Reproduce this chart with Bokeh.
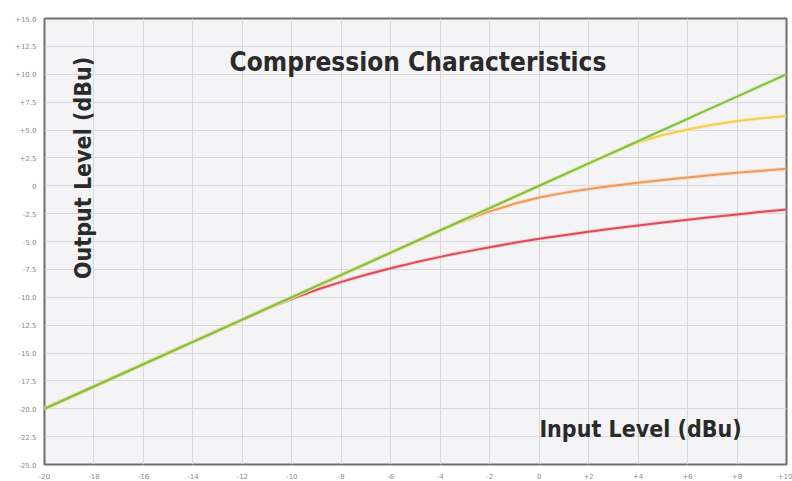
import math
from bokeh.plotting import figure
from bokeh.models import FixedTicker, Label
from bokeh.embed import file_html
from bokeh.resources import INLINE

# ---- data ----
input_db = [-20, -12, -11, -10, -9, -8, -7, -6, -5, -4, -3.5, -3, -2, -1, 0, 1, 2, 3, 3.5, 4, 5, 6, 7, 8, 9, 10]
out_linear = [-20, -12, -11, -10, -9, -8, -7, -6, -5, -4, -3.5, -3, -2, -1, 0, 1, 2, 3, 3.5, 4, 5, 6, 7, 8, 9, 10]
out_soft = [-20, -12, -11, -10, -9, -8, -7, -6, -5, -4, -3.5, -3, -2, -1, 0, 1, 2, 3, 3.48, 3.9, 4.55, 5.05, 5.47, 5.8, 6.05, 6.25]
out_medium = [-20, -12, -11, -10, -9, -8, -7, -6, -5, -4, -3.52, -3.1, -2.3, -1.62, -1.06, -0.64, -0.3, 0.0, 0.14, 0.27, 0.52, 0.75, 0.96, 1.16, 1.35, 1.53]
out_hard = [-20, -12, -11.03, -10.13, -9.33, -8.62, -7.98, -7.4, -6.87, -6.38, -6.15, -5.93, -5.51, -5.12, -4.76, -4.43, -4.12, -3.83, -3.69, -3.56, -3.3, -3.05, -2.81, -2.57, -2.34, -2.14]

x_ticks = [-20, -18, -16, -14, -12, -10, -8, -6, -4, -2, 0, 2, 4, 6, 8, 10]
x_tick_labels = ["-20", "-18", "-16", "-14", "-12", "-10", "-8", "-6", "-4", "-2", "0", "+2", "+4", "+6", "+8", "+10"]
y_ticks = [15, 12.5, 10, 7.5, 5, 2.5, 0, -2.5, -5, -7.5, -10, -12.5, -15, -17.5, -20, -22.5, -25]
y_tick_labels = ["+15.0", "+12.5", "+10.0", "+7.5", "+5.0", "+2.5", "0", "-2.5", "-5.0", "-7.5", "-10.0",
                 "-12.5", "-15.0", "-17.5", "-20.0", "-22.5", "-25.0"]

title_text = "Compression Characteristics"
x_label_text = "Input Level (dBu)"
y_label_text = "Output Level (dBu)"

p = figure(width=792, height=481, output_backend="svg", toolbar_location=None,
           x_range=(-20, 10), y_range=(-25, 15),
           min_border_left=44, min_border_right=6, min_border_top=18, min_border_bottom=13)

p.background_fill_color = "#f4f4f6"
p.border_fill_color = "white"
p.outline_line_color = "#6e6e6e"
p.outline_line_width = 2

p.xaxis.ticker = FixedTicker(ticks=x_ticks)
p.yaxis.ticker = FixedTicker(ticks=y_ticks)
p.xaxis.major_label_overrides = {t: l for t, l in zip(x_ticks, x_tick_labels)}
p.yaxis.major_label_overrides = {t: l for t, l in zip(y_ticks, y_tick_labels)}
for ax in (p.xaxis, p.yaxis):
    ax.axis_line_color = None
    ax.major_tick_line_color = None
    ax.minor_tick_line_color = None
    ax.major_label_text_font_size = "7px"
    ax.major_label_text_color = "#8a8a8a"
    ax.major_label_text_font = "DejaVu Sans"
p.yaxis.major_label_standoff = 2
p.xaxis.major_label_standoff = 2

p.xgrid.ticker = FixedTicker(ticks=x_ticks)
p.ygrid.ticker = FixedTicker(ticks=y_ticks)
p.grid.grid_line_color = "#d8d8da"
p.grid.grid_line_width = 1

# glow + lines
p.line(input_db, out_hard, line_color="#f7b8b8", line_width=4, line_alpha=0.6)
p.line(input_db, out_hard, line_color="#dc4a5c", line_width=2)
p.line(input_db, out_medium, line_color="#f9cfa8", line_width=4, line_alpha=0.6)
p.line(input_db, out_medium, line_color="#ee9a5c", line_width=2)
p.line(input_db, out_soft, line_color="#faeaa0", line_width=4, line_alpha=0.6)
p.line(input_db, out_soft, line_color="#f2cf52", line_width=2)
p.line(input_db, out_linear, line_color="#d6e890", line_width=4, line_alpha=0.6)
p.line(input_db, out_linear, line_color="#7cbf4a", line_width=2)

font = "DejaVu Sans Condensed"
p.add_layout(Label(x=-4.9, y=11.1, text=title_text, text_align="center", text_baseline="middle",
                   text_font=font, text_font_style="bold",
                   text_font_size="26px", text_color="#2a2a2a"))
p.add_layout(Label(x=4.1, y=-21.8, text=x_label_text, text_align="center", text_baseline="middle",
                   text_font=font, text_font_style="bold",
                   text_font_size="23px", text_color="#2a2a2a"))
p.add_layout(Label(x=-18.45, y=1.6, text=y_label_text, text_align="center", text_baseline="middle",
                   angle=math.pi / 2,
                   text_font=font, text_font_style="bold",
                   text_font_size="23px", text_color="#2a2a2a"))

open("out.html", "w").write(file_html(p, INLINE))
